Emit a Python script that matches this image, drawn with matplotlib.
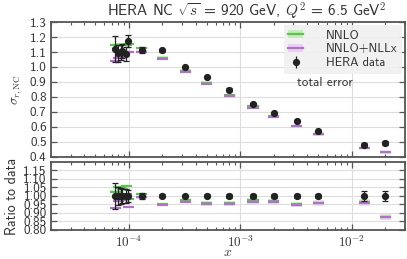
import numpy as np
import matplotlib
matplotlib.use("Agg")
import matplotlib.pyplot as plt
from matplotlib.patches import Patch
from matplotlib.lines import Line2D

x = [7.55e-5, 8.07e-5, 8.49e-5, 8.77e-5, 9.52e-5, 9.9e-5, 1.3e-4, 2.0e-4, 3.2e-4,
     5.0e-4, 8.0e-4, 1.3e-3, 2.0e-3, 3.2e-3, 5.0e-3, 1.3e-2, 2.0e-2]
data = [1.120, 1.091, 1.098, 1.107, 1.087, 1.175, 1.113, 1.113, 1.000,
        0.933, 0.849, 0.755, 0.691, 0.640, 0.575, 0.478, 0.493]
data_err = [0.085, 0.055, 0.050, 0.045, 0.045, 0.040, 0.020, 0.010, 0.008,
            0.008, 0.008, 0.007, 0.007, 0.006, 0.006, 0.014, 0.015]
nnlo = [1.148, 1.148, 1.150, 1.150, 1.150, 1.155, 1.125, 1.062, 0.976,
        0.896, 0.815, 0.739, 0.672, 0.608, 0.552, 0.460, 0.432]
nnlo_nllx = [1.040, 1.060, 1.070, 1.080, 1.100, 1.100, 1.103, 1.052, 0.966,
             0.887, 0.807, 0.729, 0.667, 0.605, 0.550, 0.459, 0.431]
band = 0.008
xtick_vals = [1e-4, 1e-3, 1e-2]
xtick_labels = [r'$10^{-4}$', r'$10^{-3}$', r'$10^{-2}$']

title = r"HERA NC $\sqrt{s}$ = 920 GeV, $Q^2$ = 6.5 GeV$^2$"

plt.rcParams['font.family'] = ['cmss10', 'DejaVu Sans']
plt.rcParams['mathtext.fontset'] = 'cm'
plt.rcParams['axes.unicode_minus'] = False
plt.rcParams['axes.formatter.use_mathtext'] = True

green = '#5cc34f'
green_b = '#c6ebc0'
purple = '#b46fcc'
purple_b = '#e8d2ef'
spine_c = '#555555'
txt_c = '#333333'

fig = plt.figure(figsize=(4.07, 2.59), dpi=100)
ax1 = fig.add_axes([0.125, 0.394, 0.870, 0.521])
ax2 = fig.add_axes([0.125, 0.112, 0.870, 0.263], sharex=ax1)

xa = np.array(x)
d = np.array(data)
de = np.array(data_err)
g = np.array(nnlo)
p = np.array(nnlo_nllx)
fw = 10 ** 0.05

def draw(ax, dv, dev, gv, pv, bwv):
    for xi, gi, pi, bi in zip(xa, gv, pv, bwv):
        xs = [xi / fw, xi * fw]
        ax.fill_between(xs, gi - bi, gi + bi, color=green_b, alpha=0.7, lw=0, zorder=2)
        ax.fill_between(xs, pi - bi, pi + bi, color=purple_b, alpha=0.7, lw=0, zorder=2)
        ax.plot(xs, [gi, gi], color=green, lw=1.6, zorder=3, solid_capstyle='butt')
        ax.plot(xs, [pi, pi], color=purple, lw=1.6, zorder=3, solid_capstyle='butt')
    ax.errorbar(xa, dv, yerr=dev, fmt='o', color='#222222', ms=4.2, capsize=2,
                elinewidth=0.9, capthick=0.9, zorder=5)

draw(ax1, d, de, g, p, np.full(len(d), band))
draw(ax2, d / d, de / d, g / d, p / d, band / d)

for ax in (ax1, ax2):
    ax.set_xscale('log')
    ax.set_xlim(2e-5, 3e-2)
    ax.grid(True, which='major', color='#dddddd', lw=0.8, zorder=0)
    for s in ax.spines.values():
        s.set_color(spine_c)
        s.set_linewidth(1.3)
    ax.tick_params(which='both', direction='in', top=True, right=True, color=spine_c,
                   labelsize=9.5, labelcolor=txt_c, pad=3)
    ax.tick_params(which='major', length=4, width=0.9)
    ax.tick_params(which='minor', length=2.5, width=0.8)

ax2.set_xticks(xtick_vals)
ax2.set_xticklabels(xtick_labels)

ax1.set_ylim(0.4, 1.3)
ax1.set_yticks(np.arange(0.4, 1.31, 0.1))
ax1.set_yticklabels(['%.1f' % v for v in np.arange(0.4, 1.31, 0.1)])
ax1.tick_params(labelbottom=False)
ax1.set_ylabel(r"$\sigma_{r,\mathrm{NC}}$", fontsize=9.5, color=txt_c, labelpad=4)
ax1.set_title(title, fontsize=11, color=txt_c, pad=4, x=0.552)

ax2.set_ylim(0.8, 1.2)
ax2.set_yticks(np.arange(0.80, 1.151, 0.05))
ax2.set_yticklabels(['%.2f' % v for v in np.arange(0.80, 1.151, 0.05)])
ax2.set_ylabel("Ratio to data", fontsize=10, color=txt_c, labelpad=3)
ax2.set_xlabel(r"$x$", fontsize=10, color=txt_c, labelpad=-3)

handles = [
    (Patch(facecolor=green_b, edgecolor='none'), Line2D([], [], color=green, lw=1.6)),
    (Patch(facecolor=purple_b, edgecolor='none'), Line2D([], [], color=purple, lw=1.6)),
    ax1.errorbar([], [], yerr=[], fmt='o', color='#222222', ms=4.2, capsize=1.5,
                 elinewidth=0.9, capthick=0.9),
]
leg = ax1.legend(handles, ['NNLO', 'NNLO+NLLx', 'HERA data'], loc='upper right',
                 fontsize=9, frameon=True, fancybox=False, facecolor='#f0f0f0',
                 edgecolor='none', framealpha=0.9, borderaxespad=0.25,
                 handlelength=1.2, handleheight=0.6, handletextpad=1.8, borderpad=0.35,
                 labelspacing=0.15, labelcolor=txt_c)
leg.set_zorder(10)
ax1.text(0.774, 0.545, "total error", transform=ax1.transAxes, fontsize=9.5,
         color=txt_c, ha='center', va='center')

fig.savefig("out.png", dpi=100)
